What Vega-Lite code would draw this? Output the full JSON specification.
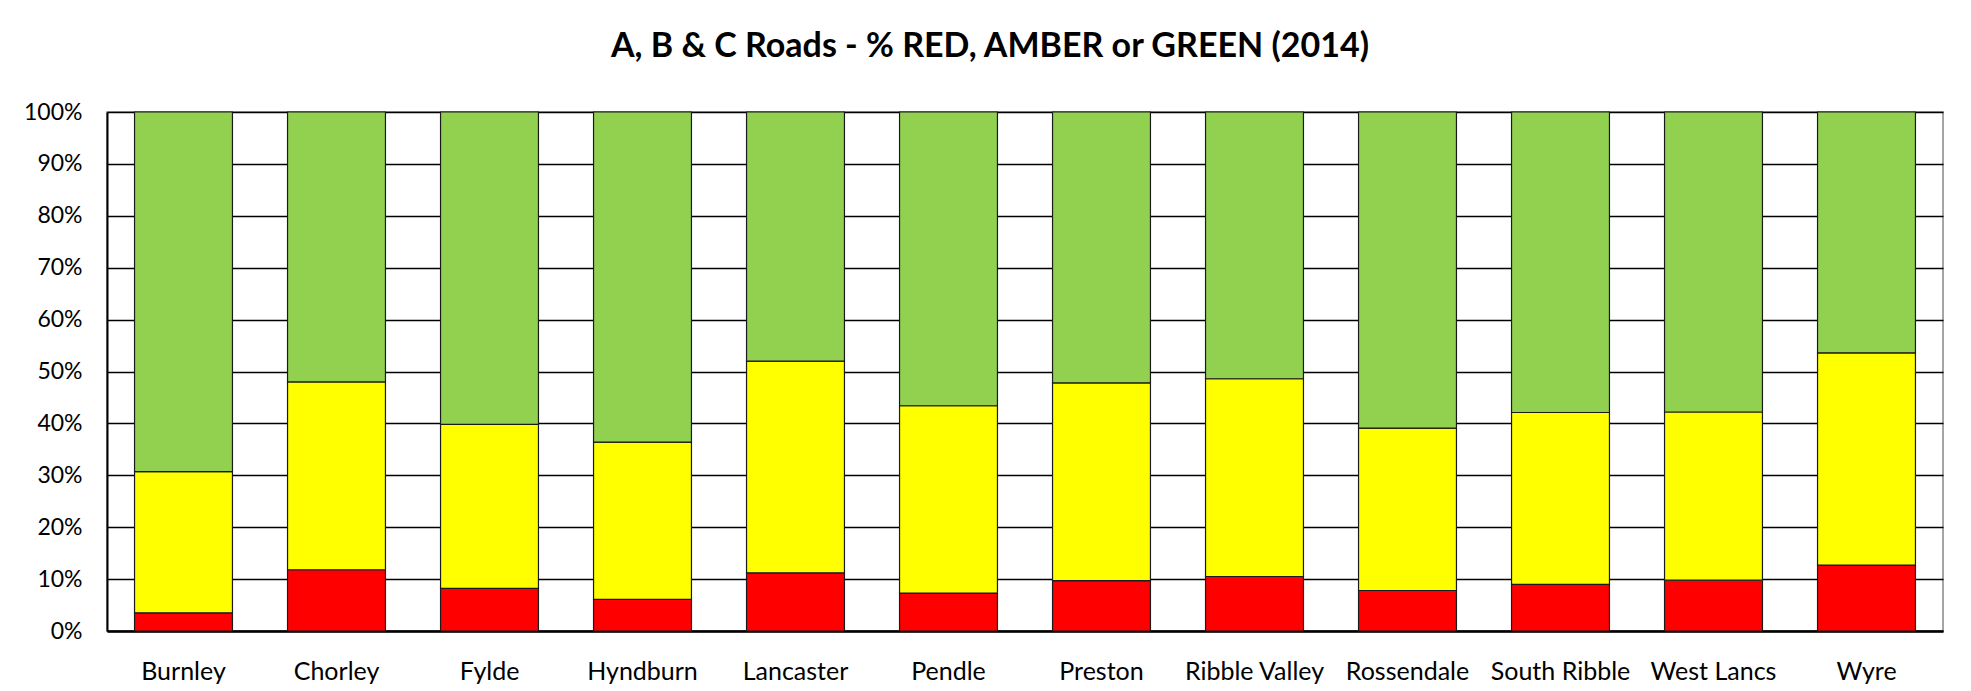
{
  "$schema": "https://vega.github.io/schema/vega-lite/v6.json",
  "width": 1836,
  "height": 519,
  "autosize": {"type": "none"},
  "padding": {"left": 107, "top": 112, "right": 28, "bottom": 60},
  "background": "white",
  "title": {
    "text": "A, B & C Roads - % RED, AMBER or GREEN (2014)",
    "font": "Lato",
    "fontWeight": "bold",
    "fontSize": 34,
    "color": "black",
    "anchor": "middle",
    "dx": -35,
    "offset": 37
  },
  "data": {
    "values": [
      {"district": "Burnley", "status": "RED", "order": 1, "share": 0.035},
      {"district": "Burnley", "status": "AMBER", "order": 2, "share": 0.272},
      {"district": "Burnley", "status": "GREEN", "order": 3, "share": 0.693},
      {"district": "Chorley", "status": "RED", "order": 1, "share": 0.118},
      {"district": "Chorley", "status": "AMBER", "order": 2, "share": 0.362},
      {"district": "Chorley", "status": "GREEN", "order": 3, "share": 0.52},
      {"district": "Fylde", "status": "RED", "order": 1, "share": 0.082},
      {"district": "Fylde", "status": "AMBER", "order": 2, "share": 0.316},
      {"district": "Fylde", "status": "GREEN", "order": 3, "share": 0.602},
      {"district": "Hyndburn", "status": "RED", "order": 1, "share": 0.061},
      {"district": "Hyndburn", "status": "AMBER", "order": 2, "share": 0.303},
      {"district": "Hyndburn", "status": "GREEN", "order": 3, "share": 0.636},
      {"district": "Lancaster", "status": "RED", "order": 1, "share": 0.112},
      {"district": "Lancaster", "status": "AMBER", "order": 2, "share": 0.408},
      {"district": "Lancaster", "status": "GREEN", "order": 3, "share": 0.48},
      {"district": "Pendle", "status": "RED", "order": 1, "share": 0.073},
      {"district": "Pendle", "status": "AMBER", "order": 2, "share": 0.361},
      {"district": "Pendle", "status": "GREEN", "order": 3, "share": 0.566},
      {"district": "Preston", "status": "RED", "order": 1, "share": 0.097},
      {"district": "Preston", "status": "AMBER", "order": 2, "share": 0.381},
      {"district": "Preston", "status": "GREEN", "order": 3, "share": 0.522},
      {"district": "Ribble Valley", "status": "RED", "order": 1, "share": 0.105},
      {"district": "Ribble Valley", "status": "AMBER", "order": 2, "share": 0.381},
      {"district": "Ribble Valley", "status": "GREEN", "order": 3, "share": 0.514},
      {"district": "Rossendale", "status": "RED", "order": 1, "share": 0.078},
      {"district": "Rossendale", "status": "AMBER", "order": 2, "share": 0.313},
      {"district": "Rossendale", "status": "GREEN", "order": 3, "share": 0.609},
      {"district": "South Ribble", "status": "RED", "order": 1, "share": 0.09},
      {"district": "South Ribble", "status": "AMBER", "order": 2, "share": 0.331},
      {"district": "South Ribble", "status": "GREEN", "order": 3, "share": 0.579},
      {"district": "West Lancs", "status": "RED", "order": 1, "share": 0.098},
      {"district": "West Lancs", "status": "AMBER", "order": 2, "share": 0.324},
      {"district": "West Lancs", "status": "GREEN", "order": 3, "share": 0.578},
      {"district": "Wyre", "status": "RED", "order": 1, "share": 0.127},
      {"district": "Wyre", "status": "AMBER", "order": 2, "share": 0.409},
      {"district": "Wyre", "status": "GREEN", "order": 3, "share": 0.464}
    ]
  },
  "mark": {"type": "bar", "stroke": "#1a1a1a", "strokeWidth": 1.2},
  "encoding": {
    "x": {
      "field": "district",
      "type": "nominal",
      "sort": null,
      "title": null,
      "scale": {"paddingInner": 0.36, "paddingOuter": 0.18},
      "axis": {
        "labelAngle": 0,
        "ticks": false,
        "labelFont": "Lato",
        "labelFontSize": 25,
        "labelColor": "black",
        "labelPadding": 28,
        "domainColor": "black",
        "domainWidth": 2.5,
        "grid": false
      }
    },
    "y": {
      "field": "share",
      "type": "quantitative",
      "stack": "zero",
      "title": null,
      "scale": {"domain": [0, 1], "nice": false},
      "axis": {
        "values": [0, 0.1, 0.2, 0.3, 0.4, 0.5, 0.6, 0.7, 0.8, 0.9, 1],
        "format": ".0%",
        "ticks": false,
        "labelFont": "Lato",
        "labelFontSize": 23,
        "labelColor": "black",
        "labelPadding": 25,
        "domainColor": "black",
        "domainWidth": 2,
        "grid": true,
        "gridColor": "black",
        "gridWidth": 1.6,
        "gridOpacity": 1
      }
    },
    "color": {
      "field": "status",
      "type": "nominal",
      "scale": {"domain": ["RED", "AMBER", "GREEN"], "range": ["#FF0000", "#FFFF00", "#92D050"]},
      "legend": null
    },
    "order": {"field": "order", "type": "quantitative"}
  },
  "config": {
    "view": {"stroke": "#888888", "strokeWidth": 1.5}
  }
}
